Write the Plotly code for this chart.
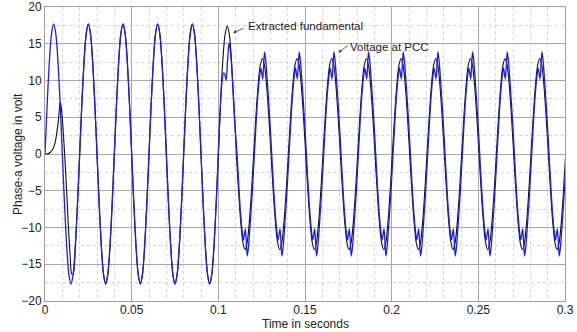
import plotly.graph_objects as go

# ---------------- data ----------------
# Voltage at PCC (blue) before the disturbance, sampled every 0.00125 s from t = 0
pcc_pre_t0 = 0.0
pcc_pre_step = 0.00125
pcc_pre_v = [
    0.0, 6.77, 12.52, 16.35, 17.7, 16.35, 12.52, 6.77, 0.0, -6.77, -12.52, -16.35, -17.7, -16.35, -12.52, -6.77,
    0.0, 6.77, 12.52, 16.35, 17.7, 16.35, 12.52, 6.77, 0.0, -6.77, -12.52, -16.35, -17.7, -16.35, -12.52, -6.77,
    0.0, 6.77, 12.52, 16.35, 17.7, 16.35, 12.52, 6.77, 0.0, -6.77, -12.52, -16.35, -17.7, -16.35, -12.52, -6.77,
    0.0, 6.77, 12.52, 16.35, 17.7, 16.35, 12.52, 6.77, 0.0, -6.77, -12.52, -16.35, -17.7, -16.35, -12.52, -6.77,
    0.0, 6.77, 12.52, 16.35, 17.7, 16.35, 12.52, 6.77, 0.0, -6.77, -12.52, -16.35, -17.7, -16.35, -12.52, -6.77,
]
# first half-cycle after the disturbance
pcc_tr_t = [0.1000, 0.1010, 0.1020, 0.1030, 0.1037, 0.1045, 0.1053, 0.1062, 0.1070, 0.1080, 0.1093, 0.1108]
pcc_tr_v = [0.0, 5.6, 9.6, 11.0, 10.9, 10.0, 12.6, 15.1, 14.0, 10.5, 5.0, 0.0]
# following half-cycles (start time + offsets)
pcc_half_starts = [0.1108, 0.1208, 0.1308, 0.1408, 0.1508, 0.1608, 0.1708, 0.1808, 0.1908, 0.2008,
                   0.2108, 0.2208, 0.2308, 0.2408, 0.2508, 0.2608, 0.2708, 0.2808, 0.2908]
pcc_half_offsets = [0.0010, 0.0020, 0.0030, 0.0037, 0.0048, 0.0054, 0.0059, 0.0066, 0.0076, 0.0088, 0.0100]
pcc_half_v = [
    [-4.3, -8.0, -10.6, -11.7, -10.2, -12.4, -13.9, -12.6, -9.4, -5.0, 0.0],
    [4.3, 8.0, 10.6, 11.7, 10.2, 12.4, 13.9, 12.6, 9.4, 5.0, 0.0],
    [-4.3, -8.0, -10.6, -11.7, -10.2, -12.4, -13.9, -12.6, -9.4, -5.0, 0.0],
    [4.3, 8.0, 10.6, 11.7, 10.2, 12.4, 13.9, 12.6, 9.4, 5.0, 0.0],
    [-4.3, -8.0, -10.6, -11.7, -10.2, -12.4, -13.9, -12.6, -9.4, -5.0, 0.0],
    [4.3, 8.0, 10.6, 11.7, 10.2, 12.4, 13.9, 12.6, 9.4, 5.0, 0.0],
    [-4.3, -8.0, -10.6, -11.7, -10.2, -12.4, -13.9, -12.6, -9.4, -5.0, 0.0],
    [4.3, 8.0, 10.6, 11.7, 10.2, 12.4, 13.9, 12.6, 9.4, 5.0, 0.0],
    [-4.3, -8.0, -10.6, -11.7, -10.2, -12.4, -13.9, -12.6, -9.4, -5.0, 0.0],
    [4.3, 8.0, 10.6, 11.7, 10.2, 12.4, 13.9, 12.6, 9.4, 5.0, 0.0],
    [-4.3, -8.0, -10.6, -11.7, -10.2, -12.4, -13.9, -12.6, -9.4, -5.0, 0.0],
    [4.3, 8.0, 10.6, 11.7, 10.2, 12.4, 13.9, 12.6, 9.4, 5.0, 0.0],
    [-4.3, -8.0, -10.6, -11.7, -10.2, -12.4, -13.9, -12.6, -9.4, -5.0, 0.0],
    [4.3, 8.0, 10.6, 11.7, 10.2, 12.4, 13.9, 12.6, 9.4, 5.0, 0.0],
    [-4.3, -8.0, -10.6, -11.7, -10.2, -12.4, -13.9, -12.6, -9.4, -5.0, 0.0],
    [4.3, 8.0, 10.6, 11.7, 10.2, 12.4, 13.9, 12.6, 9.4, 5.0, 0.0],
    [-4.3, -8.0, -10.6, -11.7, -10.2, -12.4, -13.9, -12.6, -9.4, -5.0, 0.0],
    [4.3, 8.0, 10.6, 11.7, 10.2, 12.4, 13.9, 12.6, 9.4, 5.0, 0.0],
    [-4.3, -8.0, -10.6, -11.7, -10.2, -12.4, -13.9, -12.6, -9.4, -5.0, 0.0],
]

# Extracted fundamental (black): start-up transient
fund_start_t = [0.0, 0.0010, 0.0020, 0.0030, 0.0044, 0.0058, 0.0068, 0.0077, 0.0083, 0.0088, 0.0095,
                0.0103, 0.0111, 0.0119, 0.0127, 0.0135, 0.0145, 0.0154, 0.01625]
fund_start_v = [0.0, 0.0, 0.05, 0.2, 0.6, 1.5, 2.9, 4.5, 6.1, 7.1, 6.1,
                3.8, 0.9, -2.4, -6.0, -9.9, -13.8, -16.3, -16.35]
# then it lies under the PCC voltage up to 0.1 s (same samples, from index 14 on)
fund_mid_first_index = 14
# half-cycle right after the disturbance
fund_tr_t = [0.1000, 0.10125, 0.1025, 0.10385, 0.1052, 0.10645, 0.1077, 0.1090, 0.1104]
fund_tr_v = [0.0, 6.8, 12.4, 16.2, 17.4, 16.1, 12.3, 6.7, 0.0]
fund_half_starts = [0.1104, 0.1204, 0.1304, 0.1404, 0.1504, 0.1604, 0.1704, 0.1804, 0.1904, 0.2004,
                    0.2104, 0.2204, 0.2304, 0.2404, 0.2504, 0.2604, 0.2704, 0.2804, 0.2904]
fund_half_offsets = [0.00125, 0.0025, 0.00375, 0.005, 0.00625, 0.0075, 0.00875, 0.0100]
fund_half_v = [
    [-4.97, -9.19, -12.01, -13.0, -12.01, -9.19, -4.97, 0.0],
    [4.97, 9.19, 12.01, 13.0, 12.01, 9.19, 4.97, 0.0],
    [-4.97, -9.19, -12.01, -13.0, -12.01, -9.19, -4.97, 0.0],
    [4.97, 9.19, 12.01, 13.0, 12.01, 9.19, 4.97, 0.0],
    [-4.97, -9.19, -12.01, -13.0, -12.01, -9.19, -4.97, 0.0],
    [4.97, 9.19, 12.01, 13.0, 12.01, 9.19, 4.97, 0.0],
    [-4.97, -9.19, -12.01, -13.0, -12.01, -9.19, -4.97, 0.0],
    [4.97, 9.19, 12.01, 13.0, 12.01, 9.19, 4.97, 0.0],
    [-4.97, -9.19, -12.01, -13.0, -12.01, -9.19, -4.97, 0.0],
    [4.97, 9.19, 12.01, 13.0, 12.01, 9.19, 4.97, 0.0],
    [-4.97, -9.19, -12.01, -13.0, -12.01, -9.19, -4.97, 0.0],
    [4.97, 9.19, 12.01, 13.0, 12.01, 9.19, 4.97, 0.0],
    [-4.97, -9.19, -12.01, -13.0, -12.01, -9.19, -4.97, 0.0],
    [4.97, 9.19, 12.01, 13.0, 12.01, 9.19, 4.97, 0.0],
    [-4.97, -9.19, -12.01, -13.0, -12.01, -9.19, -4.97, 0.0],
    [4.97, 9.19, 12.01, 13.0, 12.01, 9.19, 4.97, 0.0],
    [-4.97, -9.19, -12.01, -13.0, -12.01, -9.19, -4.97, 0.0],
    [4.97, 9.19, 12.01, 13.0, 12.01, 9.19, 4.97, 0.0],
    [-4.97, -9.19, -12.01, -13.0, -12.01, -9.19, -4.97, 0.0],
]

x_tickvals = [0, 0.05, 0.1, 0.15, 0.2, 0.25, 0.3]
x_ticktext = ["0", "0.05", "0.1", "0.15", "0.2", "0.25", "0.3"]
y_tickvals = [-20, -15, -10, -5, 0, 5, 10, 15, 20]

# ---------------- assemble series ----------------
pcc_pre_t = [pcc_pre_t0 + i * pcc_pre_step for i in range(len(pcc_pre_v))]
pcc_t = pcc_pre_t + pcc_tr_t + [s + o for s in pcc_half_starts for o in pcc_half_offsets]
pcc_v = pcc_pre_v + pcc_tr_v + [v for row in pcc_half_v for v in row]

fund_t = (fund_start_t + pcc_pre_t[fund_mid_first_index:] + fund_tr_t
          + [s + o for s in fund_half_starts for o in fund_half_offsets])
fund_v = (fund_start_v + pcc_pre_v[fund_mid_first_index:] + fund_tr_v
          + [v for row in fund_half_v for v in row])

FONT = "Liberation Sans, Arial, Helvetica, sans-serif"
TXT = "#222222"

fig = go.Figure()
fig.add_trace(go.Scatter(x=fund_t, y=fund_v, mode="lines", name="Extracted fundamental",
                         line=dict(color="#111111", width=1.1, shape="spline", smoothing=0.8)))
fig.add_trace(go.Scatter(x=pcc_t, y=pcc_v, mode="lines", name="Voltage at PCC",
                         line=dict(color="#1a1aff", width=1.3, shape="spline", smoothing=0.8)))

axis_common = dict(
    showgrid=True, gridcolor="#a8a8a8", gridwidth=1,
    showline=True, linecolor="#a0a0a0", linewidth=1, mirror=True,
    zeroline=False, ticks="", tickfont=dict(family=FONT, size=12, color=TXT),
    automargin=False,
)
fig.update_xaxes(range=[0, 0.3], tickvals=x_tickvals, ticktext=x_ticktext, ticklabelstandoff=-2,
                 minor=dict(dtick=0.01, showgrid=True, gridcolor="#d4d4d4", griddash="dot", gridwidth=1),
                 **axis_common)
fig.update_yaxes(range=[-20, 20], tickvals=y_tickvals,
                 minor=dict(dtick=2.5, showgrid=True, gridcolor="#d4d4d4", griddash="dot", gridwidth=1),
                 **axis_common)

# axis titles
title_font = dict(family=FONT, size=12, color=TXT)
fig.add_annotation(xref="paper", yref="paper", x=0.5, y=-0.077, text="Time in seconds",
                   showarrow=False, xanchor="center", yanchor="middle", font=title_font)
fig.add_annotation(xref="paper", yref="paper", x=-0.052, y=0.5, text="Phase-a voltage in volt",
                   textangle=-90, showarrow=False, xanchor="center", yanchor="middle", font=title_font)

ann_font = dict(family=FONT, size=11.5, color=TXT)
fig.add_annotation(x=0.1085, y=16.5, ax=12, ay=-5, text="", showarrow=True,
                   arrowhead=2, arrowsize=0.8, arrowwidth=0.8, arrowcolor="#333333")
fig.add_annotation(x=0.1160, y=17.4, text="Extracted fundamental", showarrow=False,
                   xanchor="left", yanchor="middle", font=ann_font)
fig.add_annotation(x=0.1692, y=13.8, ax=11, ay=-8, text="", showarrow=True,
                   arrowhead=2, arrowsize=0.8, arrowwidth=0.8, arrowcolor="#333333")
fig.add_annotation(x=0.1750, y=14.5, text="Voltage at PCC", showarrow=False,
                   xanchor="left", yanchor="middle", font=ann_font)

fig.update_layout(
    width=577, height=332,
    margin=dict(l=45, r=12, t=7, b=31),
    paper_bgcolor="white", plot_bgcolor="white",
    showlegend=False,
    font=dict(family=FONT, size=12, color=TXT),
)

fig.write_html("out.html")
